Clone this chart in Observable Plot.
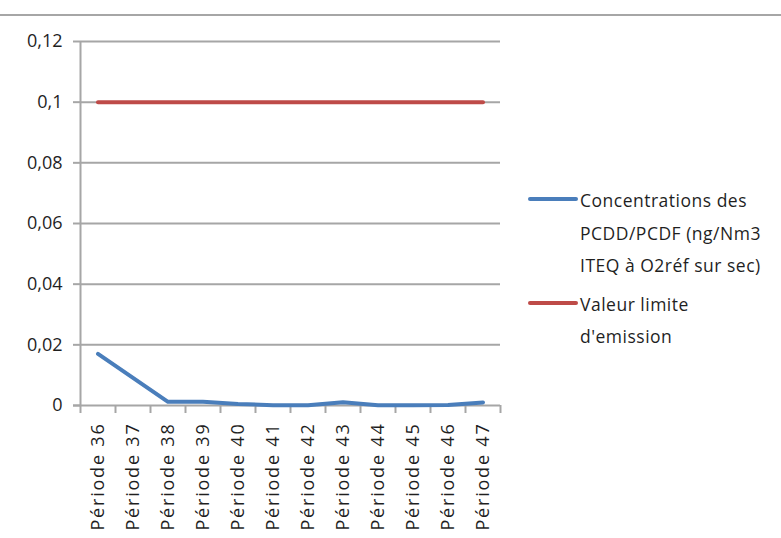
<!DOCTYPE html>
<html>
<head>
<meta charset="utf-8">
<script src="https://cdn.jsdelivr.net/npm/d3@7"></script>
<script src="https://cdn.jsdelivr.net/npm/@observablehq/plot@0.6"></script>
<style>
  html, body { margin: 0; padding: 0; background: #fff; }
  #wrap { position: relative; width: 781px; height: 538px; overflow: hidden; font-family: "Open Sans", Lato, sans-serif; }
  #topline { position: absolute; left: 0; top: 14px; width: 781px; height: 0; border-top: 2px solid #a6a6a6; }
  #legend { position: absolute; left: 528px; top: 184px; font-size: 17.5px; color: #1f1f1f; letter-spacing: 0.5px; white-space: nowrap; }
  .item { position: relative; padding-left: 52px; line-height: 32.5px; }
  .item .sw { position: absolute; left: 0; top: 13px; width: 50px; height: 4px; border-radius: 2px; }
  .item + .item { margin-top: 6px; }
  #chart g[aria-label="x-axis tick label"] text { letter-spacing: 1.8px; }
</style>
</head>
<body>
<div id="wrap">
  <div id="topline"></div>
  <div id="chart"></div>
  <div id="legend"></div>
</div>
<script>
const periods = ["Période 36","Période 37","Période 38","Période 39","Période 40","Période 41","Période 42","Période 43","Période 44","Période 45","Période 46","Période 47"];
const concentrations = [0.017, null, 0.0012, 0.0012, 0.0005, 0.0001, 0.0001, 0.0011, 0.0001, 0.0001, 0.0002, 0.0010];
const limits = [0.1, 0.1, 0.1, 0.1, 0.1, 0.1, 0.1, 0.1, 0.1, 0.1, 0.1, 0.1];
const yTicks = [0, 0.02, 0.04, 0.06, 0.08, 0.1, 0.12];
const seriesNames = ["Concentrations des PCDD/PCDF (ng/Nm3 ITEQ à O2réf sur sec)", "Valeur limite d'emission"];
const seriesLegendLines = [["Concentrations des", "PCDD/PCDF (ng/Nm3", "ITEQ à O2réf sur sec)"], ["Valeur limite", "d'emission"]];
const colors = ["#4a7ebb", "#be4b48"];

const idx = periods.map((p, i) => i);
const bounds = d3.range(periods.length + 1).map(i => i - 0.5);
const concData = idx.filter(i => concentrations[i] != null).map(i => ({i, v: concentrations[i]}));
const limitData = idx.map(i => ({i, v: limits[i]}));
const fmt = d => d === 0 ? "0" : String(+d.toFixed(2)).replace(".", ",");

const chart = Plot.plot({
  width: 781,
  height: 538,
  marginLeft: 80,
  marginRight: 281,
  marginTop: 41,
  marginBottom: 133,
  style: { fontFamily: "'Open Sans', Lato, sans-serif", fontSize: "18px", color: "#1f1f1f", background: "transparent", overflow: "visible" },
  x: { type: "linear", domain: [-0.5, periods.length - 0.5] },
  y: { domain: [0, 0.12] },
  marks: [
    Plot.ruleY(yTicks.filter(d => d > 0), { stroke: "#a6a6a6", strokeWidth: 2, x1: -0.5, x2: periods.length - 0.5 }),
    Plot.axisY({ ticks: yTicks, tickSize: 7, tickPadding: 11, tickFormat: fmt, stroke: "#a6a6a6", strokeWidth: 2, label: null, fill: "#1f1f1f", fontSize: 18 }),
    Plot.ruleX([-0.5], { stroke: "#a6a6a6", strokeWidth: 2 }),
    Plot.ruleY([0], { stroke: "#a6a6a6", strokeWidth: 2, x1: -0.5, x2: periods.length - 0.5, insetLeft: -7 }),
    Plot.axisX({ ticks: bounds, tickSize: 8, tickFormat: () => "", stroke: "#a6a6a6", strokeWidth: 2, label: null }),
    Plot.axisX({ ticks: idx, tickSize: 0, tickRotate: -90, tickPadding: 17, tickFormat: i => periods[i], label: null, fill: "#1f1f1f", fontSize: 18 }),
    Plot.line(limitData, { x: "i", y: "v", stroke: colors[1], strokeWidth: 4 }),
    Plot.line(concData, { x: "i", y: "v", stroke: colors[0], strokeWidth: 4, strokeLinejoin: "round", strokeLinecap: "round" })
  ]
});
document.getElementById("chart").appendChild(chart);

const legend = document.getElementById("legend");
seriesLegendLines.forEach((lines, k) => {
  const item = document.createElement("div");
  item.className = "item";
  item.title = seriesNames[k];
  const sw = document.createElement("span");
  sw.className = "sw";
  sw.style.background = colors[k];
  item.appendChild(sw);
  lines.forEach((t, j) => {
    if (j) item.appendChild(document.createElement("br"));
    item.appendChild(document.createTextNode(t));
  });
  legend.appendChild(item);
});
</script>
</body>
</html>
